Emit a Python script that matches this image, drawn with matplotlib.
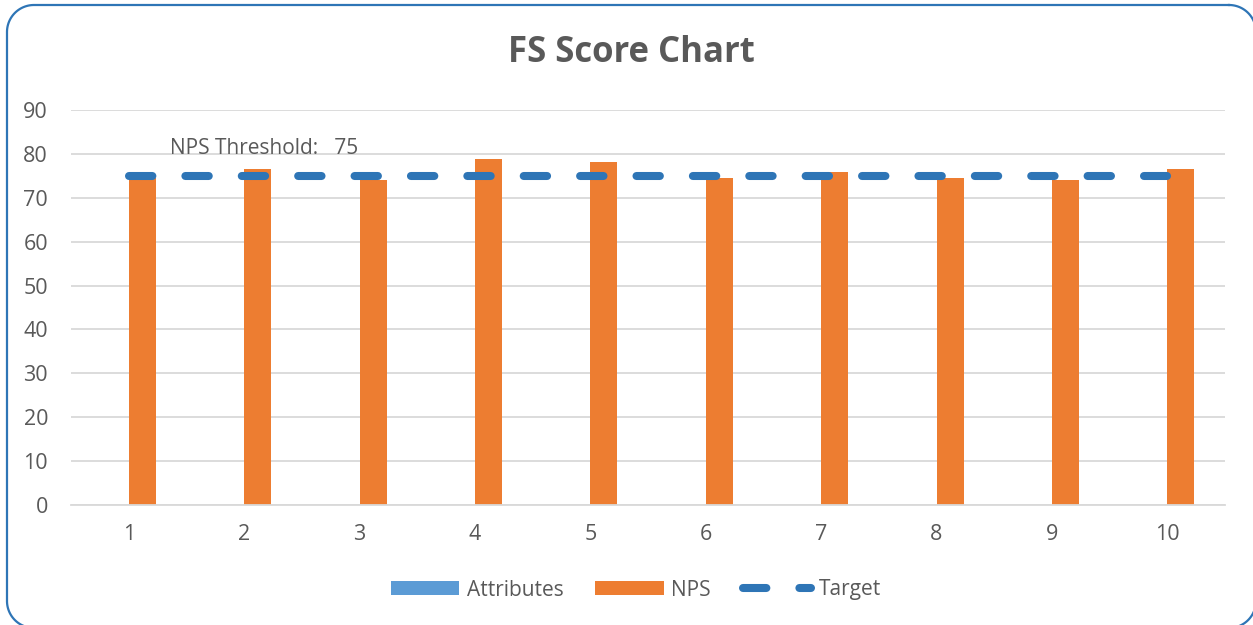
import matplotlib
matplotlib.use("Agg")
import numpy as np
import matplotlib.pyplot as plt
from matplotlib.lines import Line2D
from matplotlib.patches import Patch

# ---- data ----
categories = [1, 2, 3, 4, 5, 6, 7, 8, 9, 10]
attributes = [0, 0, 0, 0, 0, 0, 0, 0, 0, 0]
nps = [74.6, 76.5, 74.1, 78.8, 78.2, 74.6, 75.9, 74.6, 74.1, 76.5]
target_value = 75
target = [target_value] * len(categories)
title = "FS Score Chart"
yticks = [0, 10, 20, 30, 40, 50, 60, 70, 80, 90]

# ---- style ----
TXT = "#595959"
GRID = "#D9D9D9"
C_ATTR = "#5B9BD5"
C_NPS = "#ED7D31"
C_TGT = "#2E75B6"
FONT = "Open Sans"
plt.rcParams["font.family"] = [FONT, "DejaVu Sans"]
plt.rcParams["path.simplify"] = False
FS = 15.5

W, H, DPI = 1253, 625, 100
fig = plt.figure(figsize=(W / DPI, H / DPI), dpi=DPI)

# background axes in pixel units for the rounded chart-area border
bg = fig.add_axes([0, 0, 1, 1])
bg.set_xlim(0, W)
bg.set_ylim(H, 0)
bg.axis("off")
L, T, R, B, RAD = 7, 5, 1256, 628, 27
corners = [(R - RAD, T + RAD, -90, 0), (R - RAD, B - RAD, 0, 90),
           (L + RAD, B - RAD, 90, 180), (L + RAD, T + RAD, 180, 270)]
px, py = [], []
for cx, cy, a0, a1 in corners:
    ang = np.radians(np.linspace(a0, a1, 40))
    px.extend(cx + RAD * np.cos(ang))
    py.extend(cy + RAD * np.sin(ang))
px.append(px[0]); py.append(py[0])
bg.plot(px, py, color=C_TGT, linewidth=1.6, clip_on=False, solid_joinstyle="round")

ax = fig.add_axes([71 / W, (H - 505) / H, (1225 - 71) / W, (505 - 110) / H])
ax.set_facecolor("none")

bw = 0.234
x = list(categories)
ax.bar([c - bw / 2 for c in x], attributes, width=bw, color=C_ATTR, linewidth=0, zorder=2)
ax.bar([c + bw / 2 for c in x], nps, width=bw, color=C_NPS, linewidth=0, zorder=2)

lw_pt = 5.8
ax.plot(x, target, color=C_TGT, linewidth=lw_pt, linestyle=(0, (2.9, 4.1)),
        dash_capstyle="round", solid_capstyle="round", zorder=3)

ax.set_xlim(0.5, 10.5)
ax.set_ylim(0, 90)
ax.set_yticks(yticks)
ax.set_xticks(x)
ax.set_xticklabels([str(c) for c in categories])
ax.grid(axis="y", color=GRID, linewidth=1.3, zorder=0)
ax.set_axisbelow(True)
for s in ["top", "right", "left"]:
    ax.spines[s].set_visible(False)
ax.spines["bottom"].set_color(GRID)
ax.spines["bottom"].set_linewidth(1.3)
ax.tick_params(axis="both", length=0, labelsize=FS, labelcolor=TXT)
ax.tick_params(axis="y", pad=16.5)
ax.tick_params(axis="x", pad=14)

ax.text(2.17, 81.3, f"NPS Threshold:   {target_value}", ha="center", va="center",
        fontsize=FS - 0.5, color=TXT, zorder=4)

fig.text(631 / W, 1 - 53 / H, title, ha="center", va="center",
         fontsize=25, fontweight="bold", color=TXT)

handles = [Patch(facecolor=C_ATTR, edgecolor="none"),
           Patch(facecolor=C_NPS, edgecolor="none"),
           Line2D([0], [0], color=C_TGT, linewidth=lw_pt, linestyle=(0, (2.9, 4.1)),
                  dash_capstyle="round")]
leg = fig.legend(handles, ["Attributes", "NPS", "Target"], loc="center",
                 bbox_to_anchor=(636 / W, 1 - 590 / H), ncol=3, frameon=False,
                 fontsize=FS - 0.5, handlelength=3.27, handleheight=0.67,
                 handletextpad=0.38, columnspacing=1.54, labelcolor=TXT)

fig.savefig("out.png", dpi=DPI)
